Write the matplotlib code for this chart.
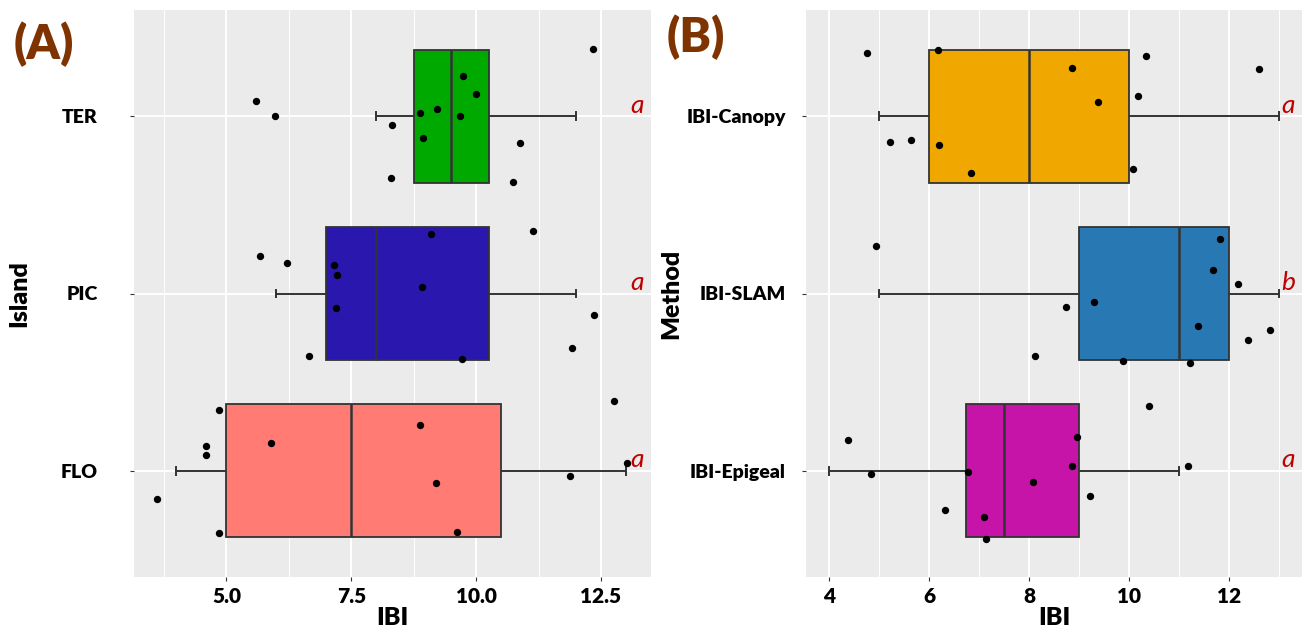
import numpy as np
import matplotlib
matplotlib.use("Agg")
import matplotlib.pyplot as plt

# ---------- Settings ----------
plt.rcParams['font.family'] = ['Lato', 'DejaVu Sans']

PANEL_BG = "#EBEBEB"
EDGE = "#333333"
LETTER_RED = "#C00000"
TAG_BROWN = "#7F3300"

# ---------- Data: panel A (Island), bottom to top ----------
ISLANDS = ["FLO", "PIC", "TER"]
ISLAND_COLORS = ["#FF7B74", "#2A17AE", "#00A900"]
A_WLO = [4.0, 6.0, 8.0]
A_Q1 = [5.0, 7.0, 8.75]
A_MED = [7.5, 8.0, 9.5]
A_Q3 = [10.5, 10.25, 10.25]
A_WHI = [13.0, 12.0, 12.0]
A_LETTERS = ["a", "a", "a"]

FLO_X = [12.75, 4.85, 8.88, 5.89, 4.60, 4.59, 13.02, 11.87, 9.19, 3.62, 4.86, 9.62]
FLO_DY = [0.395, 0.343, 0.258, 0.154, 0.141, 0.087, 0.045, -0.028, -0.070, -0.158, -0.350, -0.348]
PIC_X = [11.14, 9.09, 5.68, 6.22, 7.15, 7.21, 8.92, 7.19, 12.35, 11.91, 6.65, 9.72]
PIC_DY = [0.352, 0.337, 0.209, 0.173, 0.162, 0.107, 0.036, -0.081, -0.124, -0.305, -0.352, -0.369]
TER_X = [12.34, 9.73, 9.99, 5.60, 9.22, 8.87, 9.68, 5.98, 8.31, 8.93, 10.88, 8.29, 10.73]
TER_DY = [0.380, 0.226, 0.126, 0.085, 0.040, 0.017, 0.002, 0.0, -0.049, -0.121, -0.149, -0.348, -0.371]

# ---------- Data: panel B (Method), bottom to top ----------
METHODS = ["IBI-Epigeal", "IBI-SLAM", "IBI-Canopy"]
METHOD_COLORS = ["#C613A8", "#2878B3", "#F0A800"]
B_WLO = [4.0, 5.0, 5.0]
B_Q1 = [6.75, 9.0, 6.0]
B_MED = [7.5, 11.0, 8.0]
B_Q3 = [9.0, 12.0, 10.0]
B_WHI = [11.0, 13.0, 13.0]
B_LETTERS = ["a", "b", "a"]

EPI_X = [10.39, 4.39, 8.95, 11.17, 8.85, 4.85, 6.79, 8.07, 9.21, 6.33, 7.10, 7.14]
EPI_DY = [0.365, 0.173, 0.192, 0.028, 0.028, -0.021, -0.009, -0.066, -0.141, -0.220, -0.262, -0.384]
SLAM_X = [4.94, 11.81, 11.68, 12.17, 9.30, 8.74, 11.37, 12.82, 12.38, 8.12, 9.87, 11.22]
SLAM_DY = [0.269, 0.305, 0.130, 0.053, -0.047, -0.077, -0.186, -0.207, -0.264, -0.350, -0.380, -0.392]
CAN_X = [4.76, 6.18, 10.33, 8.86, 12.60, 10.18, 9.38, 5.22, 5.65, 6.20, 6.85, 10.08]
CAN_DY = [0.358, 0.377, 0.343, 0.273, 0.269, 0.113, 0.083, -0.145, -0.134, -0.162, -0.318, -0.296]


# ---------- Drawing helpers ----------
def draw_panel(ax, cats, colors, wlo, q1, med, q3, whi, pts_x, pts_dy, letters,
               xlim, major, minor, ticklabels, ylabel, ylabel_x, ytick_pad):
    ax.set_facecolor(PANEL_BG)
    pos = np.arange(1, len(cats) + 1)
    stats = []
    for i in range(len(cats)):
        stats.append({'whislo': wlo[i], 'q1': q1[i], 'med': med[i],
                      'q3': q3[i], 'whishi': whi[i], 'fliers': []})
    bp = ax.bxp(stats, positions=pos, widths=0.75, orientation='horizontal',
                patch_artist=True, showfliers=False, capwidths=0.045,
                boxprops=dict(edgecolor=EDGE, linewidth=1.3),
                medianprops=dict(color=EDGE, linewidth=1.8),
                whiskerprops=dict(color=EDGE, linewidth=1.4),
                capprops=dict(color=EDGE, linewidth=1.4))
    for patch, c in zip(bp['boxes'], colors):
        patch.set_facecolor(c)
    for art in bp['whiskers'] + bp['caps']:
        art.set_zorder(1.5)
    for p, xs, dys in zip(pos, pts_x, pts_dy):
        ax.scatter(xs, p + np.array(dys), s=28, color='black', zorder=4, linewidths=0)
    for p, letter in zip(pos, letters):
        ax.text(xlim[1] - 0.26, p + 0.02, letter, color=LETTER_RED, fontsize=19,
                style='italic', ha='center', va='baseline', zorder=5)

    ax.set_xlim(*xlim)
    ax.set_ylim(0.4, len(cats) + 0.6)
    ax.set_xticks(major)
    ax.set_xticklabels(ticklabels, fontsize=15, fontweight='heavy')
    ax.set_xticks(minor, minor=True)
    ax.set_yticks(pos)
    ax.set_yticklabels(cats, fontsize=14, fontweight='heavy')
    ax.tick_params(axis='both', which='major', length=3, color=EDGE, width=0.8)
    ax.tick_params(axis='x', which='major', pad=4)
    ax.tick_params(axis='y', which='major', pad=ytick_pad)
    ax.tick_params(axis='x', which='minor', length=0)
    ax.grid(True, which='major', color='white', linewidth=1.4)
    ax.grid(True, which='minor', axis='x', color='white', linewidth=0.7)
    ax.set_axisbelow(True)
    for s in ax.spines.values():
        s.set_visible(False)
    ax.set_xlabel("IBI", fontsize=18, fontweight='heavy', va='center')
    ax.xaxis.set_label_coords(0.5, -0.072)
    ax.set_ylabel(ylabel, fontsize=18, fontweight='heavy', va='center')
    ax.yaxis.set_label_coords(ylabel_x, 0.5)


# ---------- Main ----------
fig = plt.figure(figsize=(13.04, 6.30), dpi=100)

ax_a = fig.add_axes([134 / 1304, 53 / 630, 516.5 / 1304, 567 / 630])
draw_panel(ax_a, ISLANDS, ISLAND_COLORS, A_WLO, A_Q1, A_MED, A_Q3, A_WHI,
           [FLO_X, PIC_X, TER_X], [FLO_DY, PIC_DY, TER_DY], A_LETTERS,
           (3.15, 13.49), [5.0, 7.5, 10.0, 12.5], [3.75, 6.25, 8.75, 11.25],
           ["5.0", "7.5", "10.0", "12.5"], "Island", -0.223, 23)

ax_b = fig.add_axes([806.5 / 1304, 53 / 630, 495 / 1304, 567 / 630])
draw_panel(ax_b, METHODS, METHOD_COLORS, B_WLO, B_Q1, B_MED, B_Q3, B_WHI,
           [EPI_X, SLAM_X, CAN_X], [EPI_DY, SLAM_DY, CAN_DY], B_LETTERS,
           (3.55, 13.45), [4, 6, 8, 10, 12], [5, 7, 9, 11, 13],
           ["4", "6", "8", "10", "12"], "Method", -0.273, 12)

fig.text(14 / 1304, 1 - 44 / 630, "(A)", fontsize=34, fontweight='heavy',
         color=TAG_BROWN, ha='left', va='center')
fig.text(667 / 1304, 1 - 37 / 630, "(B)", fontsize=34, fontweight='heavy',
         color=TAG_BROWN, ha='left', va='center')

fig.savefig("out.png", dpi=100)
